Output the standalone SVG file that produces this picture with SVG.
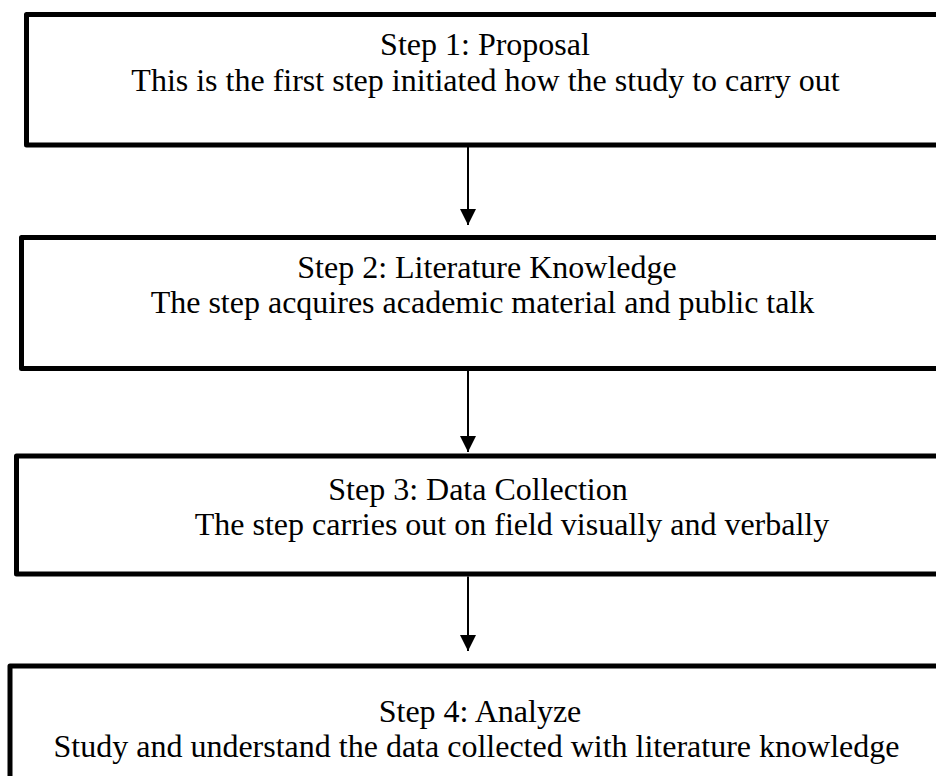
<svg xmlns="http://www.w3.org/2000/svg" width="936" height="776" viewBox="0 0 936 776">
<style>
.box{fill:#fff;stroke:#000;stroke-width:5;stroke-linejoin:round}
.t{font-family:"Liberation Serif","Times New Roman",serif;font-size:32px;fill:#000;text-anchor:middle}
.c{stroke:#000;stroke-width:2;fill:none}
</style>
<defs>
<marker id="ah" viewBox="0 0 16 16" refX="16" refY="8" markerWidth="16" markerHeight="16" markerUnits="userSpaceOnUse" orient="auto">
<path d="M0,0 L16,8 L0,16 Z" fill="#000"/>
</marker>
</defs>
<rect width="936" height="776" fill="#fff"/>
<g id="step1">
<rect class="box" x="26.5" y="14.5" width="930" height="130.5"/>
<text class="t" x="485" y="55">Step 1: Proposal</text>
<text class="t" x="485.5" y="90.5">This is the first step initiated how the study to carry out</text>
</g>
<g id="step2">
<rect class="box" x="21.5" y="237.5" width="930" height="131"/>
<text class="t" x="487" y="277.5">Step 2: Literature Knowledge</text>
<text class="t" x="482.5" y="312.5">The step acquires academic material and public talk</text>
</g>
<g id="step3">
<rect class="box" x="16.5" y="456" width="930" height="118"/>
<text class="t" x="478" y="499.5">Step 3: Data Collection</text>
<text class="t" x="512" y="534.5">The step carries out on field visually and verbally</text>
</g>
<g id="step4">
<rect class="box" x="10" y="666" width="940" height="130"/>
<text class="t" x="480" y="721.5">Step 4: Analyze</text>
<text class="t" x="476.5" y="756.5">Study and understand the data collected with literature knowledge</text>
</g>
<g id="connectors">
<line class="c" x1="468" y1="147" x2="468" y2="225" marker-end="url(#ah)"/>
<line class="c" x1="468" y1="371" x2="468" y2="452" marker-end="url(#ah)"/>
<line class="c" x1="468" y1="576.5" x2="468" y2="651" marker-end="url(#ah)"/>
</g>
</svg>
